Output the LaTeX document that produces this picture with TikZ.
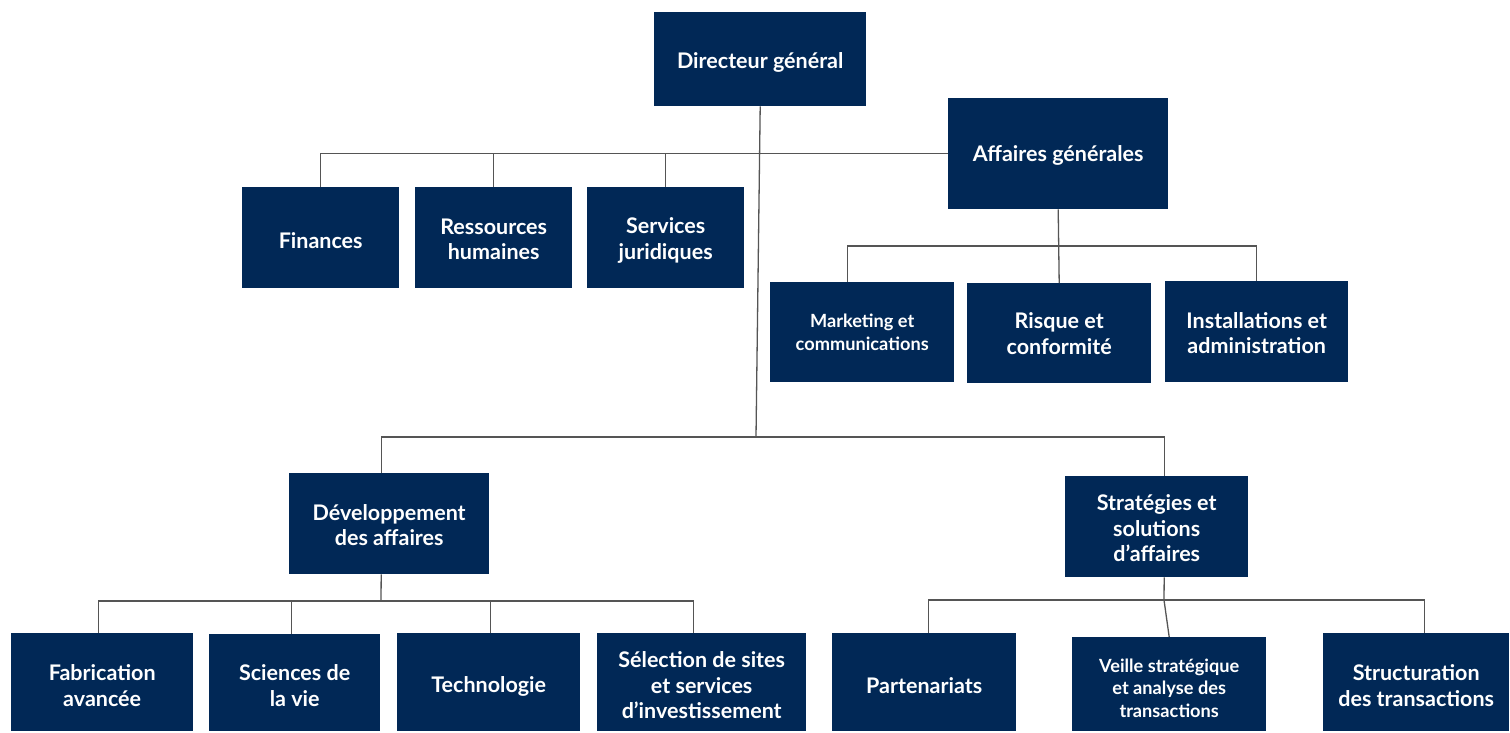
\documentclass[tikz,border=0pt]{standalone}
\usepackage{fontspec}
\setmainfont{Lato}
\definecolor{navy}{RGB}{1,40,86}
\definecolor{ln}{RGB}{85,85,85}
% name, x, y, width, height, text shift, text style, text
\newcommand{\orgbox}[8]{%
  \node[box, minimum width=#4pt, minimum height=#5pt] (#1) at (#2,#3) {};
  \node[txt, #7] (#1-t) at ([yshift=-#6pt]#1.center) {#8};}
\begin{document}
\begin{tikzpicture}[x=1pt,y=-1pt,
  box/.style={fill=navy, inner sep=0pt, anchor=north west},
  txt/.style={text=white, font=\bfseries\fontsize{21.5}{25.5}\selectfont, align=center, inner sep=0pt},
  small/.style={font=\bfseries\fontsize{18.2}{22.5}\selectfont},
  conn/.style={draw=ln, line width=1.3pt}]
\useasboundingbox (0,0) rectangle (1510,732);
\fill[white] (0,0) rectangle (1510,732);

\orgbox{dg}{654}{12}{212}{94}{3}{}{Directeur général}
\orgbox{ag}{948}{98}{220}{111}{2}{}{Affaires générales}
\orgbox{fin}{242}{187}{157}{101}{3}{}{Finances}
\orgbox{rh}{415}{187}{157}{101}{1.5}{}{Ressources\\humaines}
\orgbox{sj}{587}{187}{157}{101}{3}{}{Services\\juridiques}
\orgbox{mk}{770}{282}{184}{100}{0}{small}{Marketing et\\communications}
\orgbox{rq}{967}{283}{184}{100}{0.5}{}{Risque et\\conformité}
\orgbox{ins}{1165}{281}{183}{101}{1.5}{}{Installations et\\administration}
\orgbox{dev}{289}{473}{200}{101}{1.5}{}{Développement\\des affaires}
\orgbox{st}{1065}{476}{183}{101}{1.5}{}{Stratégies et\\solutions\\d’affaires}
\orgbox{fab}{11}{633}{182}{98}{3.5}{}{Fabrication\\avancée}
\orgbox{sci}{209}{634}{171}{97}{3}{}{Sciences de\\la vie}
\orgbox{tec}{397}{633}{183}{98}{4}{}{Technologie}
\orgbox{sel}{597}{633}{209}{98}{3}{}{Sélection de sites\\et services\\d’investissement}
\orgbox{par}{832}{633}{184}{98}{3}{}{Partenariats}
\orgbox{vei}{1072}{637}{194}{94}{4}{small}{Veille stratégique\\et analyse des\\transactions}
\orgbox{str}{1323}{633}{186}{98}{3.5}{}{Structuration\\des transactions}

\coordinate (j1) at (756,437);
\coordinate (j2) at (1059,246);
\coordinate (j3) at (381,601);
\coordinate (j4) at (1164,600);

\draw[conn] (fin.north) |- (ag.west);
\draw[conn] (rh.north) -- (rh.north |- ag.west);
\draw[conn] (sj.north) -- (sj.north |- ag.west);
\draw[conn] (dg.south) -- (j1);
\draw[conn] ([xshift=-8pt]dev.north) |- (j1) -| ([xshift=7.5pt]st.north);
\draw[conn] (ag.south) -- (rq.north);
\draw[conn] ([xshift=-15pt]mk.north) |- (j2) -| (ins.north);
\draw[conn] ([xshift=-8pt]dev.south) -- (j3);
\draw[conn] ([xshift=-4pt]fab.north) |- (j3) -| ([xshift=-8.5pt]sel.north);
\draw[conn] ([xshift=-3.5pt]sci.north) |- (j3);
\draw[conn] ([xshift=1.5pt]tec.north) |- (j3);
\draw[conn] ([xshift=7.5pt]st.south) -- (j4);
\draw[conn] ([xshift=4pt]par.north) |- (j4) -| ([xshift=8pt]str.north);
\draw[conn] (j4) -- (vei.north);
\end{tikzpicture}
\end{document}
